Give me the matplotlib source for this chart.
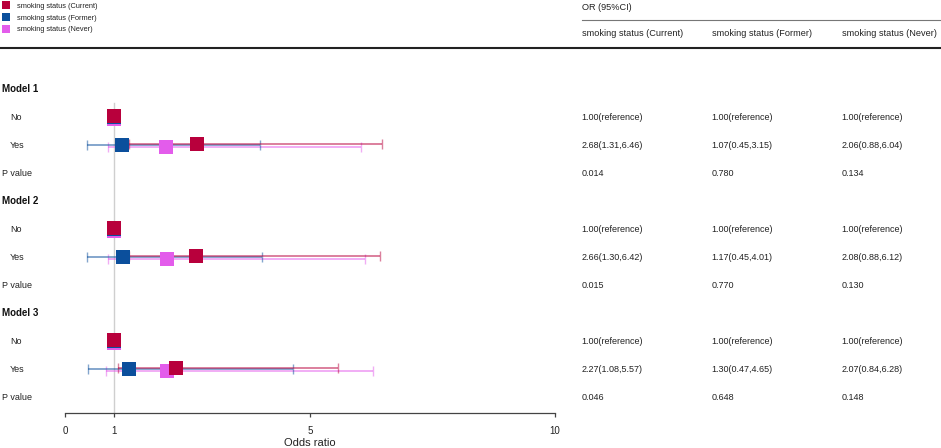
import matplotlib
matplotlib.use("Agg")
import matplotlib.pyplot as plt
from matplotlib.lines import Line2D
from matplotlib.transforms import blended_transform_factory

plt.rcParams['font.family'] = ['Liberation Sans', 'DejaVu Sans']

# ---------------- data ----------------
groups = ['Current', 'Former', 'Never']
models = ['Model 1', 'Model 2', 'Model 3']
colors = {'Current': '#B8003C', 'Former': '#0B4F9C', 'Never': '#E35CEB'}

# plotted estimates for "Yes" rows
or_yes = {'Current': [2.68, 2.66, 2.27],
          'Former':  [1.16, 1.17, 1.30],
          'Never':   [2.06, 2.08, 2.07]}
lo_yes = {'Current': [1.31, 1.30, 1.08],
          'Former':  [0.45, 0.45, 0.47],
          'Never':   [0.88, 0.88, 0.84]}
hi_yes = {'Current': [6.46, 6.42, 5.57],
          'Former':  [3.98, 4.01, 4.65],
          'Never':   [6.04, 6.12, 6.28]}
or_ref = 1.0

# table text
ci_text = {'Current': ['2.68(1.31,6.46)', '2.66(1.30,6.42)', '2.27(1.08,5.57)'],
           'Former':  ['1.07(0.45,3.15)', '1.17(0.45,4.01)', '1.30(0.47,4.65)'],
           'Never':   ['2.06(0.88,6.04)', '2.08(0.88,6.12)', '2.07(0.84,6.28)']}
p_text = {'Current': ['0.014', '0.015', '0.046'],
          'Former':  ['0.780', '0.770', '0.648'],
          'Never':   ['0.134', '0.130', '0.148']}
ref_text = '1.00(reference)'

xticks = [0, 1, 5, 10]

# ---------------- layout ----------------
W, H = 941, 448
fig = plt.figure(figsize=(W / 100, H / 100), dpi=100)

row0_px, row_step = 89.3, 28.0
ax_left_px, ax_right_px = 65.3, 555.0
ax_top_px, ax_bot_px = 60.0, 412.7
ax = fig.add_axes([ax_left_px / W, 1 - ax_bot_px / H,
                   (ax_right_px - ax_left_px) / W, (ax_bot_px - ax_top_px) / H])
ax.set_xlim(0, 10)
ax.set_ylim((ax_bot_px - row0_px) / row_step, (ax_top_px - row0_px) / row_step)
for s in ['left', 'top', 'right']:
    ax.spines[s].set_visible(False)
ax.spines['bottom'].set_color('#444444')
ax.spines['bottom'].set_linewidth(0.9)
ax.set_yticks([])
ax.set_xticks(xticks)
ax.set_xticklabels([str(t) for t in xticks])
ax.tick_params(axis='x', length=3, width=0.9, color='#444444', pad=6.5,
               labelsize=7, labelcolor='#222222')
ax.set_xlabel('Odds ratio', fontsize=8, labelpad=1.5, color='#222222')
ax.patch.set_alpha(0)

# reference line at OR = 1
ax.axvline(1, ymin=0, ymax=(ax.get_ylim()[0] - 0.5) / (ax.get_ylim()[0] - ax.get_ylim()[1]),
           color='#CFCFCF', lw=1.0, zorder=0)

offsets = {'Current': -0.055, 'Former': 0.0, 'Never': 0.055}
draw_order = ['Never', 'Former', 'Current']
for m in range(3):
    base = 4 * m
    for g in draw_order:
        c = colors[g]
        y_yes = base + 2 + offsets[g]
        y_no = base + 1 + offsets[g]
        x = or_yes[g][m]
        ax.errorbar([x], [y_yes],
                    xerr=[[x - lo_yes[g][m]], [hi_yes[g][m] - x]],
                    fmt='none', ecolor=c, alpha=0.5, elinewidth=1.4,
                    capsize=3.6, capthick=1.0, zorder=2)
        ax.plot([x], [y_yes], marker='s', ls='none', color=c,
                markersize=10.2, markeredgewidth=0, zorder=3)
        ax.plot([or_ref], [y_no], marker='s', ls='none', color=c,
                markersize=10.2, markeredgewidth=0, zorder=3)

# ---------------- left labels ----------------
trL = blended_transform_factory(fig.transFigure, ax.transData)
for m, name in enumerate(models):
    base = 4 * m
    fig.text(2 / W, base, name, transform=trL, fontsize=7, fontweight='bold',
             va='center', ha='left', color='#111111')
    fig.text(10 / W, base + 1, 'No', transform=trL, fontsize=6.5,
             va='center', ha='left', color='#222222')
    fig.text(10 / W, base + 2, 'Yes', transform=trL, fontsize=6.5,
             va='center', ha='left', color='#222222')
    fig.text(2 / W, base + 3, 'P value', transform=trL, fontsize=6.5,
             va='center', ha='left', color='#222222')

# ---------------- right table ----------------
col_x = [581.5, 711.5, 841.5]
for ci, g in enumerate(groups):
    xf = col_x[ci] / W
    fig.text(xf, 1 - 33.5 / H, 'smoking status (%s)' % g, fontsize=6.6,
             va='center', ha='left', color='#222222')
    for m in range(3):
        base = 4 * m
        fig.text(xf, base + 1, ref_text, transform=trL, fontsize=6.5,
                 va='center', ha='left', color='#222222')
        fig.text(xf, base + 2, ci_text[g][m], transform=trL, fontsize=6.5,
                 va='center', ha='left', color='#222222')
        fig.text(xf, base + 3, p_text[g][m], transform=trL, fontsize=6.5,
                 va='center', ha='left', color='#222222')

fig.text(581.5 / W, 1 - 7.5 / H, 'OR (95%CI)', fontsize=6.6,
         va='center', ha='left', color='#222222')

# header lines
fig.add_artist(Line2D([581.5 / W, 1.0], [1 - 19.7 / H, 1 - 19.7 / H],
                      transform=fig.transFigure, color='#777777', lw=0.8))
fig.add_artist(Line2D([0.0, 1.0], [1 - 47.7 / H, 1 - 47.7 / H],
                      transform=fig.transFigure, color='#222222', lw=1.5))

# ---------------- legend ----------------
handles = [Line2D([], [], marker='s', ls='none', color=colors[g],
                  markersize=5.6, markeredgewidth=0) for g in groups]
fig.legend(handles, ['smoking status (%s)' % g for g in groups],
           loc='upper left', bbox_to_anchor=(0, 1), frameon=False,
           fontsize=5.3, handlelength=1.0, handletextpad=0.9,
           borderpad=0.38, borderaxespad=0, labelspacing=0.6,
           labelcolor='#222222')

fig.savefig('out.png', dpi=100)
